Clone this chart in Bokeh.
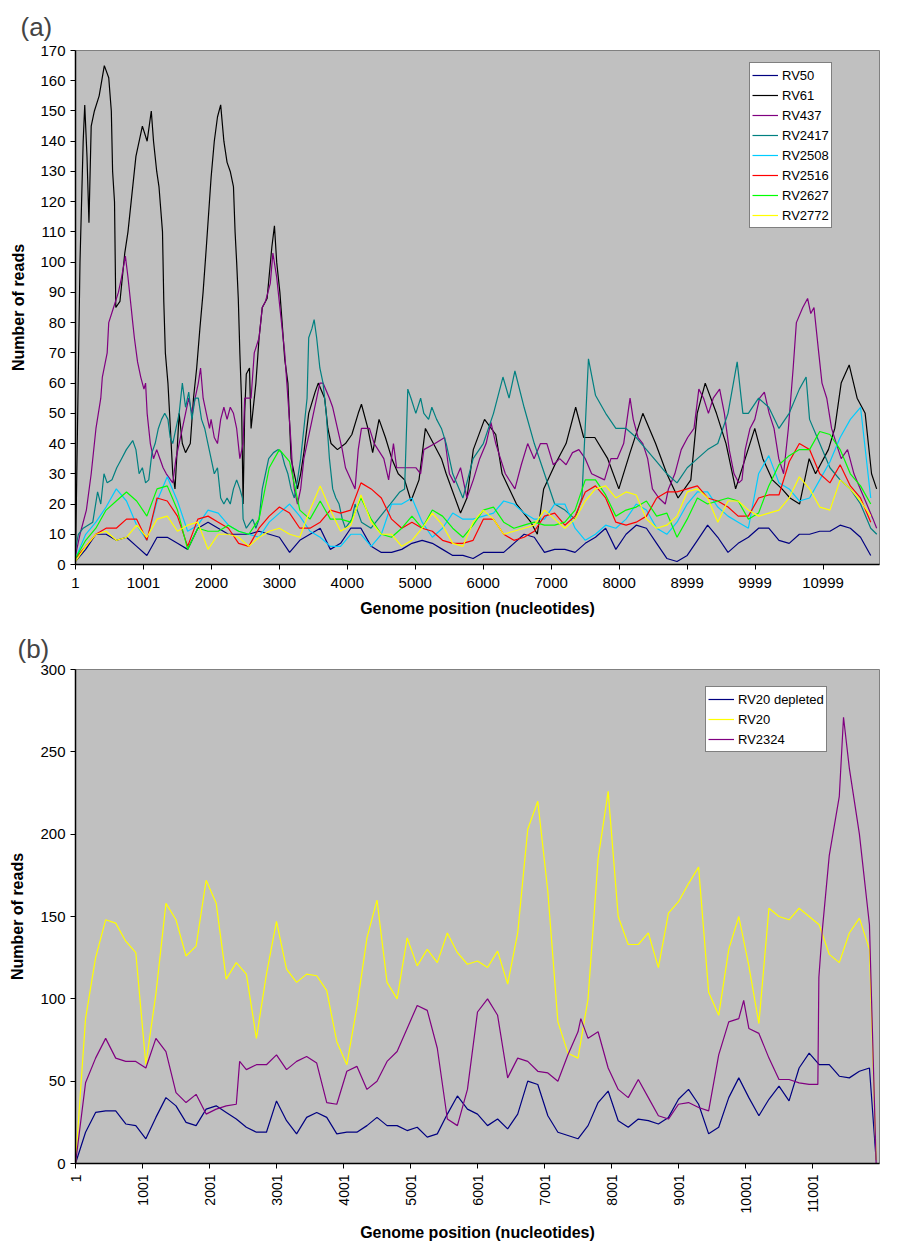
import math
from bokeh.plotting import figure
from bokeh.layouts import column
from bokeh.models import Range1d, FixedTicker
from bokeh.embed import file_html
from bokeh.resources import INLINE

FONT = "Liberation Sans"

# ---------------- Panel (a) data ----------------
positions_a = list(range(1, 11702, 150))
xticks_a = [1, 1001, 2000, 3000, 4000, 5000, 6000, 7000, 8000, 8999, 9999, 10999]
xlabels_a = ["1", "1001", "2000", "3000", "4000", "5000", "6000", "7000", "8000", "8999", "9999", "10999"]

rv50 = [1, 5, 10, 10, 8, 9, 6, 3, 9, 9,
        7, 5, 12, 14, 12, 10, 10, 10, 11, 10,
        9, 4, 8, 10, 12, 5, 7, 12, 12, 6,
        4, 4, 5, 7, 8, 7, 5, 3, 3, 2,
        4, 4, 4, 7, 10, 9, 4, 5, 5, 4,
        7, 9, 12, 5, 10, 13, 12, 7, 2, 1,
        3, 8, 13, 9, 4, 7, 9, 12, 12, 8,
        7, 10, 10, 11, 11, 13, 12, 9, 3]

# (position, reads) pairs for the high-coverage samples
rv61_points = [
    (1, 2), (67, 100), (114, 140), (137, 152), (170, 135), (199, 113), (232, 145), (279, 150), (349, 155), (425, 165),
    (490, 161), (528, 150), (547, 130), (575, 120), (594, 85), (655, 87), (726, 103), (773, 110), (820, 120), (890, 135),
    (985, 145), (1055, 140), (1116, 150), (1149, 140), (1196, 130), (1229, 125), (1281, 110), (1300, 87), (1323, 70), (1361, 60),
    (1385, 50), (1432, 30), (1465, 25), (1526, 50), (1573, 40), (1620, 37), (1690, 40), (1737, 55), (1784, 65), (1831, 78),
    (1878, 90), (1926, 105), (1996, 128), (2043, 140), (2090, 148), (2137, 152), (2184, 140), (2231, 133), (2278, 130), (2325, 125),
    (2349, 110), (2372, 100), (2396, 88), (2419, 70), (2443, 55), (2467, 20), (2490, 50), (2514, 63), (2561, 65), (2584, 45),
    (2608, 50), (2655, 60), (2702, 75), (2749, 85), (2820, 88), (2890, 105), (2928, 112), (2961, 100), (3008, 90), (3041, 80),
    (3079, 68), (3126, 60), (3173, 35), (3220, 30), (3267, 25), (3314, 30), (3361, 37), (3432, 50), (3526, 57), (3573, 60),
    (3667, 55), (3714, 45), (3761, 40), (3855, 38), (3973, 40), (4067, 43), (4161, 50), (4208, 53), (4303, 45), (4373, 37),
    (4467, 48), (4561, 42), (4655, 35), (4749, 30), (4843, 28), (4937, 21), (5055, 28), (5149, 45), (5267, 40), (5385, 35),
    (5455, 30), (5666, 17), (5760, 22), (5854, 38), (6019, 48), (6184, 43), (6278, 30), (6489, 20), (6701, 14), (6795, 10),
    (6889, 25), (7054, 33), (7219, 40), (7360, 52), (7478, 42), (7642, 42), (7831, 35), (7995, 25), (8160, 37), (8348, 50),
    (8536, 40), (8701, 30), (8866, 22), (9054, 28), (9148, 50), (9266, 60), (9431, 50), (9572, 40), (9713, 25), (9854, 35),
    (9995, 45), (10113, 35), (10254, 28), (10395, 25), (10513, 22), (10654, 20), (10795, 35), (10889, 30), (11078, 38), (11172, 45),
    (11266, 60), (11384, 66), (11501, 55), (11619, 50), (11713, 30), (11788, 25)]

rv437_points = [
    (1, 3), (20, 5), (67, 10), (161, 18), (232, 30), (302, 45), (373, 55), (396, 62), (467, 70), (490, 80),
    (561, 85), (632, 90), (679, 95), (735, 102), (773, 95), (820, 85), (843, 80), (867, 75), (914, 67), (961, 62),
    (1008, 58), (1032, 60), (1055, 50), (1102, 40), (1149, 35), (1196, 38), (1243, 35), (1290, 32), (1337, 30), (1432, 27),
    (1479, 35), (1526, 40), (1620, 50), (1667, 55), (1714, 50), (1761, 55), (1808, 60), (1841, 65), (1879, 55), (1926, 50),
    (1973, 45), (1996, 48), (2043, 42), (2090, 40), (2137, 48), (2184, 52), (2231, 48), (2278, 52), (2325, 50), (2372, 45),
    (2419, 35), (2467, 40), (2490, 55), (2584, 55), (2631, 70), (2702, 75), (2749, 85), (2796, 87), (2867, 93), (2905, 103),
    (2961, 95), (3008, 85), (3032, 80), (3079, 70), (3126, 55), (3173, 40), (3197, 30), (3220, 25), (3267, 20), (3314, 25),
    (3361, 35), (3408, 40), (3502, 50), (3596, 60), (3643, 60), (3737, 55), (3785, 52), (3855, 45), (3926, 38), (3973, 32),
    (4114, 25), (4161, 38), (4208, 45), (4326, 45), (4396, 40), (4537, 35), (4608, 28), (4679, 40), (4726, 32), (4867, 32),
    (5008, 32), (5079, 30), (5126, 38), (5290, 40), (5432, 42), (5502, 30), (5572, 27), (5666, 32), (5760, 22), (5854, 28),
    (5948, 35), (6042, 40), (6113, 47), (6184, 40), (6254, 35), (6325, 30), (6466, 25), (6560, 33), (6654, 40), (6748, 35),
    (6842, 40), (6936, 40), (7031, 33), (7125, 35), (7219, 33), (7313, 37), (7407, 38), (7501, 35), (7595, 30), (7784, 28),
    (7878, 35), (7972, 35), (8066, 40), (8160, 55), (8207, 48), (8278, 42), (8348, 40), (8419, 35), (8489, 25), (8584, 22),
    (8678, 20), (8725, 25), (8819, 30), (8913, 38), (9007, 42), (9101, 45), (9172, 58), (9242, 55), (9313, 50), (9384, 55),
    (9478, 58), (9548, 50), (9619, 38), (9690, 30), (9760, 27), (9807, 28), (9854, 38), (9925, 45), (9995, 48), (10066, 55),
    (10136, 57), (10207, 50), (10278, 45), (10348, 35), (10419, 30), (10489, 45), (10560, 65), (10607, 80), (10701, 85), (10772, 88),
    (10819, 83), (10866, 85), (10936, 70), (10984, 60), (11054, 55), (11125, 45), (11195, 40), (11266, 35), (11360, 38), (11454, 30),
    (11548, 25), (11642, 20), (11736, 15), (11788, 12)]

rv2417_points = [
    (1, 5), (43, 10), (114, 12), (255, 14), (326, 24), (373, 20), (420, 30), (467, 27), (538, 28), (608, 32),
    (679, 35), (749, 38), (843, 41), (890, 38), (937, 30), (985, 32), (1032, 27), (1079, 28), (1126, 37), (1173, 40),
    (1220, 45), (1267, 48), (1314, 50), (1361, 48), (1394, 42), (1432, 40), (1479, 45), (1526, 50), (1573, 60), (1620, 52),
    (1667, 57), (1714, 48), (1761, 55), (1808, 55), (1855, 48), (1902, 45), (1949, 40), (1996, 35), (2043, 30), (2090, 32),
    (2137, 22), (2184, 20), (2231, 22), (2278, 20), (2325, 25), (2372, 28), (2419, 25), (2457, 22), (2467, 15), (2514, 12),
    (2608, 15), (2655, 12), (2702, 15), (2749, 25), (2796, 30), (2843, 35), (2914, 37), (2984, 38), (3032, 37), (3079, 33),
    (3126, 30), (3173, 25), (3220, 22), (3267, 28), (3314, 35), (3361, 45), (3408, 55), (3432, 75), (3479, 78), (3512, 81),
    (3549, 75), (3596, 65), (3643, 60), (3690, 50), (3737, 35), (3785, 25), (3832, 22), (3879, 20), (3926, 15), (3973, 12),
    (4067, 15), (4114, 20), (4208, 14), (4349, 12), (4490, 16), (4632, 20), (4773, 24), (4843, 25), (4890, 58), (4937, 55),
    (5008, 50), (5079, 55), (5126, 50), (5196, 48), (5244, 52), (5314, 48), (5385, 45), (5455, 40), (5551, 30), (5701, 22),
    (5851, 35), (6001, 40), (6151, 50), (6290, 62), (6380, 55), (6466, 64), (6601, 52), (6751, 40), (6901, 30), (7051, 20),
    (7201, 18), (7351, 15), (7451, 22), (7548, 68), (7651, 56), (7801, 50), (7951, 45), (8101, 45), (8251, 42), (8401, 38),
    (8551, 34), (8701, 30), (8851, 27), (9001, 32), (9151, 35), (9301, 38), (9451, 40), (9601, 50), (9736, 67), (9820, 50),
    (9901, 50), (10051, 55), (10201, 52), (10351, 45), (10501, 50), (10651, 58), (10750, 62), (10801, 48), (10951, 40), (11101, 32),
    (11251, 28), (11401, 25), (11551, 20), (11701, 12), (11790, 10)]

rv2508 = [2, 10, 14, 19, 25, 21, 13, 8, 21, 29,
          21, 11, 13, 18, 17, 13, 11, 10, 9, 14,
          17, 20, 16, 11, 9, 6, 6, 10, 10, 6,
          10, 20, 20, 22, 14, 9, 12, 17, 15, 15,
          16, 17, 21, 20, 17, 15, 15, 20, 20, 12,
          8, 10, 13, 12, 15, 20, 18, 12, 10, 14,
          20, 24, 24, 19, 16, 14, 12, 30, 36, 27,
          25, 21, 22, 28, 34, 42, 48, 52, 22]
rv2516 = [2, 6, 10, 12, 12, 15, 15, 8, 22, 21,
          16, 6, 15, 16, 14, 12, 7, 6, 12, 16,
          19, 17, 12, 12, 14, 18, 17, 18, 27, 25,
          22, 15, 12, 14, 12, 11, 8, 7, 7, 8,
          15, 15, 10, 8, 9, 11, 16, 17, 13, 16,
          24, 26, 22, 14, 13, 14, 16, 22, 24, 24,
          25, 26, 22, 21, 19, 16, 16, 22, 23, 23,
          34, 40, 38, 30, 27, 33, 26, 22, 14]
rv2627 = [2, 8, 12, 18, 21, 24, 21, 16, 25, 26,
          18, 5, 12, 11, 11, 13, 11, 10, 15, 32,
          38, 34, 18, 15, 21, 15, 15, 14, 22, 15,
          10, 9, 12, 16, 12, 18, 16, 12, 9, 13,
          18, 19, 14, 12, 13, 14, 13, 13, 14, 18,
          28, 28, 23, 16, 18, 19, 21, 16, 17, 9,
          15, 22, 20, 21, 22, 21, 15, 17, 26, 33,
          36, 38, 38, 44, 43, 38, 30, 26, 20]
rv2772 = [1, 6, 10, 11, 8, 9, 13, 9, 15, 16,
          11, 13, 14, 5, 10, 10, 9, 6, 9, 11,
          12, 10, 9, 18, 26, 18, 11, 13, 23, 14,
          10, 10, 6, 8, 12, 17, 13, 7, 6, 14,
          18, 15, 10, 11, 12, 13, 18, 15, 12, 15,
          21, 25, 26, 22, 24, 23, 15, 12, 13, 16,
          24, 25, 22, 14, 21, 21, 18, 16, 17, 18,
          22, 29, 25, 19, 18, 28, 25, 21, 16]


def split(points):
    return [p for p, _ in points], [v for _, v in points]


rv61_x, rv61_y = split(rv61_points)
rv437_x, rv437_y = split(rv437_points)
rv2417_x, rv2417_y = split(rv2417_points)

series_a = [("RV50", positions_a, rv50, "#000080"),
            ("RV61", rv61_x, rv61_y, "#000000"),
            ("RV437", rv437_x, rv437_y, "#800080"),
            ("RV2417", rv2417_x, rv2417_y, "#008080"),
            ("RV2508", positions_a, rv2508, "#00CCFF"),
            ("RV2516", positions_a, rv2516, "#FF0000"),
            ("RV2627", positions_a, rv2627, "#00FF00"),
            ("RV2772", positions_a, rv2772, "#FFFF00")]

# ---------------- Panel (b) data ----------------
positions_b = list(range(1, 11852, 150)) + [11951]
xticks_b = [1, 1001, 2001, 3001, 4001, 5001, 6001, 7001, 8001, 9001, 10001, 11001]
xlabels_b = ["1", "1001", "2001", "3001", "4001", "5001", "6001", "7001", "8001", "9001", "10001", "11001"]

rv20_depleted = [0, 19, 31, 32, 32, 24, 23, 15, 28, 40,
                 35, 25, 23, 33, 35, 31, 27, 22, 19, 19,
                 38, 26, 18, 28, 31, 28, 18, 19, 19, 23,
                 28, 23, 23, 20, 22, 16, 18, 30, 41, 33,
                 30, 23, 27, 21, 30, 50, 48, 29, 19, 17,
                 15, 23, 37, 44, 26, 22, 27, 26, 24, 28,
                 39, 45, 36, 18, 22, 40, 52, 40, 29, 39,
                 47, 38, 58, 67, 60, 60, 53, 52, 56, 58,
                 2]
rv20 = [0, 88, 125, 148, 146, 135, 128, 60, 103, 158,
        148, 126, 132, 172, 158, 112, 122, 115, 76, 115,
        147, 118, 110, 115, 114, 105, 74, 60, 95, 137,
        160, 110, 100, 137, 120, 130, 122, 140, 128, 121,
        123, 119, 129, 109, 140, 203, 220, 165, 86, 67,
        64, 100, 185, 226, 150, 133, 133, 140, 119, 152,
        159, 170, 180, 104, 90, 130, 150, 120, 85, 155,
        150, 148, 155, 150, 145, 127, 122, 140, 149, 130,
        2]
rv2324_points = [
    (1, 0), (151, 49), (301, 64), (451, 76), (601, 64), (751, 62), (901, 62), (1051, 58), (1201, 76), (1351, 68),
    (1501, 43), (1651, 37), (1801, 42), (1951, 30), (2101, 33), (2251, 35), (2401, 36), (2451, 62), (2551, 57), (2701, 60),
    (2851, 60), (3001, 66), (3151, 57), (3301, 62), (3451, 65), (3601, 61), (3751, 37), (3901, 36), (4051, 56), (4201, 59),
    (4351, 45), (4501, 50), (4651, 62), (4801, 68), (4951, 82), (5101, 96), (5251, 93), (5401, 70), (5551, 27), (5701, 23),
    (5851, 45), (6001, 92), (6151, 100), (6301, 90), (6451, 52), (6601, 64), (6751, 62), (6901, 56), (7051, 55), (7201, 50),
    (7351, 66), (7501, 80), (7543, 88), (7651, 76), (7801, 80), (7951, 58), (8101, 45), (8251, 40), (8401, 51), (8551, 40),
    (8701, 29), (8851, 27), (9001, 36), (9151, 37), (9301, 34), (9451, 32), (9601, 66), (9751, 86), (9901, 88), (9974, 99),
    (10051, 82), (10201, 79), (10351, 64), (10501, 51), (10651, 51), (10801, 49), (10951, 48), (11081, 48), (11096, 113), (11146, 141),
    (11251, 187), (11401, 223), (11464, 271), (11551, 240), (11701, 200), (11851, 145), (11951, 0)]
rv2324_x, rv2324_y = split(rv2324_points)

series_b = [("RV20 depleted", positions_b, rv20_depleted, "#000080"),
            ("RV20", positions_b, rv20, "#FFFF00"),
            ("RV2324", rv2324_x, rv2324_y, "#800080")]


def style_axes(p, tick_size, label_standoff_y, label_standoff_x, xlab_standoff):
    p.xgrid.visible = False
    p.ygrid.visible = False
    for ax in (p.xaxis[0], p.yaxis[0]):
        ax.major_label_text_font = FONT
        ax.major_label_text_font_size = tick_size
        ax.major_label_text_color = "black"
        ax.axis_label_text_font = FONT
        ax.axis_label_text_font_style = "bold"
        ax.axis_label_text_font_size = "16px"
        ax.axis_label_text_color = "black"
        ax.minor_tick_line_color = None
        ax.major_tick_in = 0
        ax.major_tick_out = 5
        ax.axis_line_color = "black"
        ax.axis_line_width = 1.5
        ax.major_tick_line_color = "black"
        ax.major_label_standoff = 5
    p.xaxis[0].major_label_standoff = xlab_standoff
    p.yaxis[0].axis_label_standoff = label_standoff_y
    p.xaxis[0].axis_label_standoff = label_standoff_x


def style_title(p, offset, standoff):
    p.title.text_font = FONT
    p.title.text_font_size = "26px"
    p.title.text_font_style = "normal"
    p.title.align = "left"
    p.title.offset = offset
    p.title.standoff = standoff


def style_legend(p, loc):
    lg = p.legend[0]
    lg.location = loc
    lg.label_text_font = FONT
    lg.label_text_font_size = "13px"
    lg.label_text_color = "black"
    lg.glyph_width = 26
    lg.glyph_height = 20
    lg.label_height = 20
    lg.label_standoff = 4
    lg.spacing = 0
    lg.padding = 2
    lg.margin = 0
    lg.border_line_color = "black"
    lg.border_line_width = 1
    lg.background_fill_color = "white"
    lg.background_fill_alpha = 1.0


# ---------------- Figure (a) ----------------
p1 = figure(width=907, height=622, output_backend="svg", toolbar_location=None,
            x_range=Range1d(1, 11830), y_range=Range1d(0, 170),
            min_border_left=72, min_border_right=0, min_border_top=49, min_border_bottom=58,
            background_fill_color="#C0C0C0", border_fill_color="white",
            outline_line_color="#808080", title="(a)")
for name, xs, ys, col in series_a:
    p1.line(xs, ys, line_color=col, line_width=1.2, legend_label=name)
p1.xaxis.ticker = FixedTicker(ticks=xticks_a)
p1.xaxis.major_label_overrides = {t: s for t, s in zip(xticks_a, xlabels_a)}
p1.yaxis.ticker = FixedTicker(ticks=list(range(0, 171, 10)))
p1.xaxis.axis_label = "Genome position (nucleotides)"
p1.yaxis.axis_label = "Number of reads"
style_axes(p1, "15px", 10, 9, 8)
style_title(p1, -55, 18)
style_legend(p1, (674, 336))

# ---------------- Figure (b) ----------------
p2 = figure(width=907, height=622, output_backend="svg", toolbar_location=None,
            x_range=Range1d(1, 12001), y_range=Range1d(0, 300),
            min_border_left=75, min_border_right=28, min_border_top=47, min_border_bottom=80,
            background_fill_color="#C0C0C0", border_fill_color="white",
            outline_line_color="#808080", title="(b)")
for name, xs, ys, col in series_b:
    p2.line(xs, ys, line_color=col, line_width=1.2, legend_label=name)
p2.xaxis.ticker = FixedTicker(ticks=xticks_b)
p2.xaxis.major_label_overrides = {t: s for t, s in zip(xticks_b, xlabels_b)}
p2.yaxis.ticker = FixedTicker(ticks=list(range(0, 301, 50)))
p2.xaxis.axis_label = "Genome position (nucleotides)"
p2.yaxis.axis_label = "Number of reads"
style_axes(p2, "15px", 11, 8, 6)
p2.xaxis.major_label_text_font_size = "14px"
p2.xaxis.major_label_orientation = math.pi / 2
style_title(p2, -58, 11)
style_legend(p2, (630, 411))

layout = column(p1, p2, spacing=0)
open("out.html", "w").write(file_html(layout, INLINE))
